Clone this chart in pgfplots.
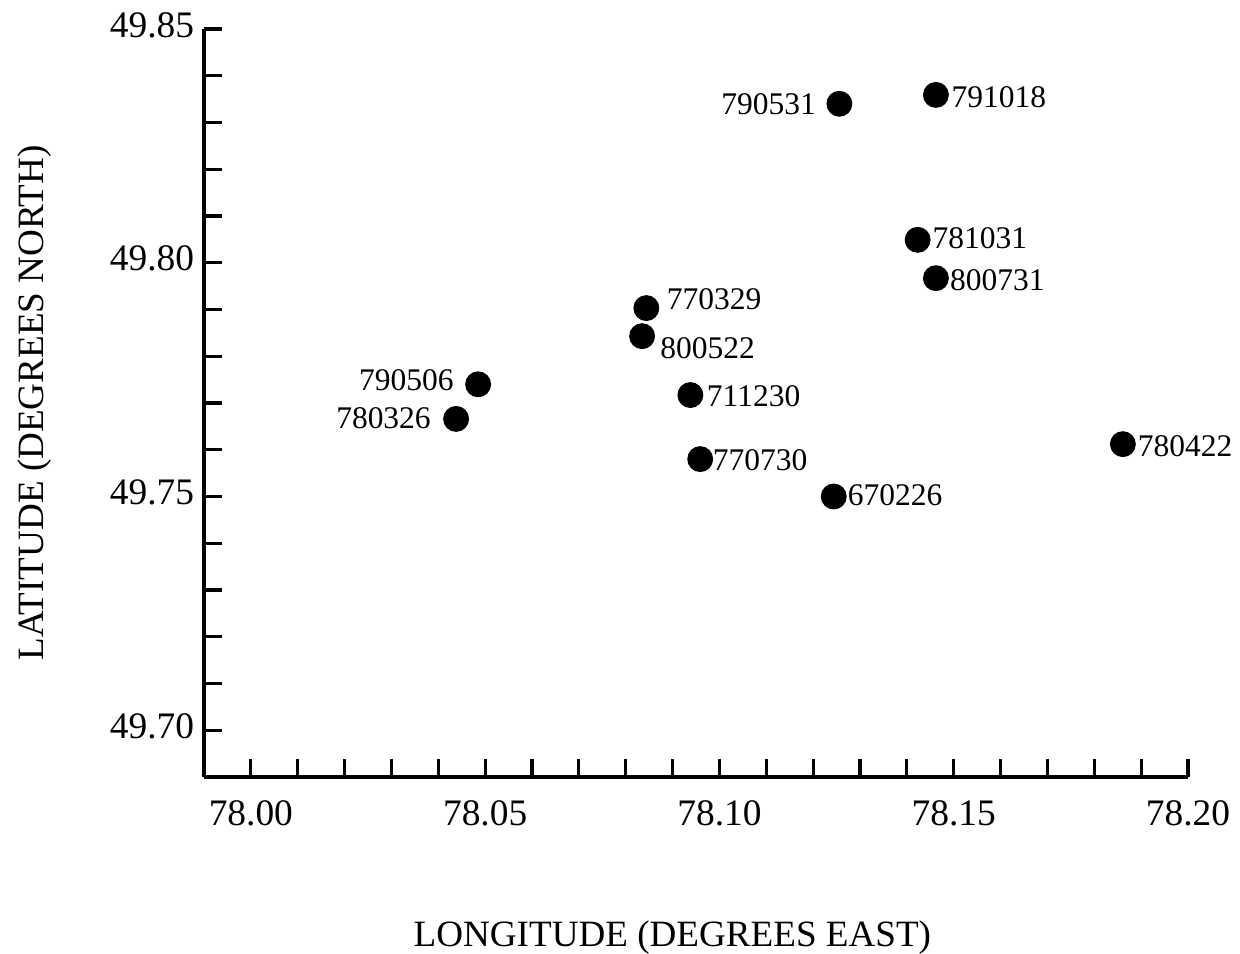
\documentclass[border=0pt]{standalone}
\usepackage{pgfplots}
\pgfplotsset{compat=1.18}
\usepackage{pgfplotstable}
\usepackage{fontspec}
\setmainfont{Liberation Serif}
\pgfplotstableread{
x y lab dx dy
78.1462 49.8359 791018 0.19 -0.025
78.1423 49.8049 781031 0.18 0.025
78.1462 49.7967 800731 0.17 -0.025
78.0844 49.7903 770329 0.25 0.1125
78.0835 49.7843 800522 0.22 -0.15
78.0938 49.7717 711230 0.20 -0.0125
78.0959 49.7580 770730 0.15 -0.0125
78.1244 49.7500 670226 0.17 0.0125
78.1861 49.7612 780422 0.18 -0.025
}\ptsright
\pgfplotstableread{
x y lab dx dy
78.1256 49.8340 790531 -0.2875 0.0
78.0485 49.7740 790506 -0.30 0.05
78.0438 49.7666 780326 -0.31 0.0125
}\ptsleft
\begin{document}
\begin{tikzpicture}[x=1cm,y=1cm]
\path[use as bounding box] (-2.55,-2.2125) rectangle (12.95,9.7125);
\begin{axis}[
  at={(0,0)}, anchor=south west,
  scale only axis, width=12.3cm, height=9.35cm,
  xmin=77.99, xmax=78.20, ymin=49.69, ymax=49.85,
  axis x line*=bottom, axis y line*=left,
  axis line style={line width=1.6pt,-},
  tick align=inside,
  xtick={78.00,78.05,78.10,78.15,78.20},
  ytick={49.70,49.75,49.80,49.85},
  minor tick num=4,
  major tick length=0.22cm, minor tick length=0.22cm,
  tick style={black, line width=1.1pt},
  scaled ticks=false,
  /pgf/number format/assume math mode=true,
  xticklabel style={yshift=-0.175cm, /pgf/number format/.cd, fixed, fixed zerofill, precision=2},
  yticklabel style={yshift=0.05cm, /pgf/number format/.cd, fixed, fixed zerofill, precision=2},
  tick label style={font=\fontsize{13.3}{15}\selectfont},
  label style={font=\fontsize{13.2}{15}\selectfont},
  xlabel={LONGITUDE (DEGREES EAST)},
  ylabel={LATITUDE (DEGREES NORTH)},
  x label style={at={(axis description cs:0.476,-0.2142)}, anchor=center},
  y label style={at={(axis description cs:-0.1717,0.5)}, anchor=center},
  clip=false,
]
\addplot[only marks, mark=*, mark size=4.4pt, black,
  point meta=explicit symbolic,
  nodes near coords,
  visualization depends on={\thisrow{dx}\as\dx},
  visualization depends on={\thisrow{dy}\as\dy},
  every node near coord/.append style={anchor=west, inner sep=0pt, xshift=\dx cm, yshift=\dy cm, font=\fontsize{11.2}{13}\selectfont, black},
] table[x=x, y=y, meta=lab] {\ptsright};
\addplot[only marks, mark=*, mark size=4.4pt, black,
  point meta=explicit symbolic,
  nodes near coords,
  visualization depends on={\thisrow{dx}\as\dx},
  visualization depends on={\thisrow{dy}\as\dy},
  every node near coord/.append style={anchor=east, inner sep=0pt, xshift=\dx cm, yshift=\dy cm, font=\fontsize{11.2}{13}\selectfont, black},
] table[x=x, y=y, meta=lab] {\ptsleft};
\end{axis}
\end{tikzpicture}
\end{document}
